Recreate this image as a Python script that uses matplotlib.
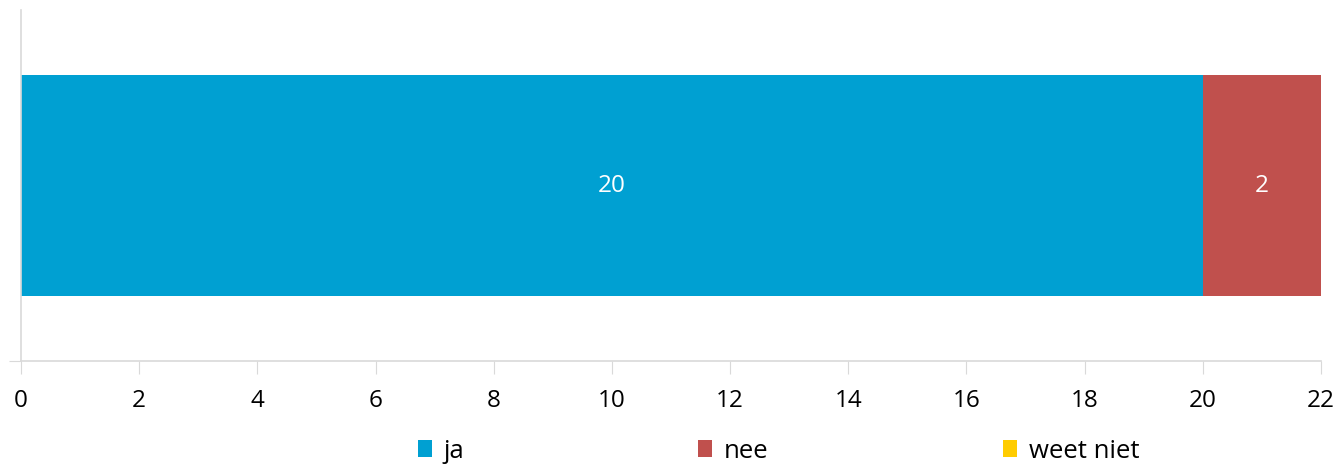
import matplotlib.pyplot as plt

categories = ['ja', 'nee', 'weet niet']
values = [20, 2, 0]
colors = ['#00A0D2', '#C0504D', '#FFCC00']
xticks = list(range(0, 23, 2))

plt.rcParams['font.family'] = ['Open Sans', 'DejaVu Sans']

fig = plt.figure(figsize=(13.38, 4.65), dpi=100)
ax = fig.add_axes([21 / 1338, 1 - 361 / 465, 1300 / 1338, 351 / 465])

left = 0
handles = []
for cat, val, col in zip(categories, values, colors):
    b = ax.barh(0, val, left=left, height=0.63, color=col, label=cat)
    handles.append(b)
    if val > 0:
        ax.text(left + val / 2, 0, str(val), ha='center', va='center',
                color='white', fontsize=17.5)
    left += val

ax.set_xlim(0, 22)
ax.set_ylim(-0.5, 0.5)
ax.set_xticks(xticks)
ax.set_xticklabels([str(t) for t in xticks], fontsize=17.5)
ax.set_yticks([-0.5])
ax.set_yticklabels([''])
ax.tick_params(axis='x', length=9, color='#D9D9D9', pad=11)
ax.tick_params(axis='y', length=9, color='#D9D9D9')
for s in ['top', 'right']:
    ax.spines[s].set_visible(False)
for s in ['left', 'bottom']:
    ax.spines[s].set_color('#D9D9D9')
    ax.spines[s].set_linewidth(1.2)

# Excel-style legend entries spread along the bottom
legend_x = [418, 698, 1003]
for h, cat, lx in zip(handles, categories, legend_x):
    fig.legend([h], [cat], loc='center left', bbox_to_anchor=(lx / 1338, 1 - 451 / 465),
               frameon=False, fontsize=18.5, handlelength=0.55, handleheight=0.6,
               handletextpad=0.45, borderpad=0, borderaxespad=0)

fig.savefig('out.png', dpi=100)
